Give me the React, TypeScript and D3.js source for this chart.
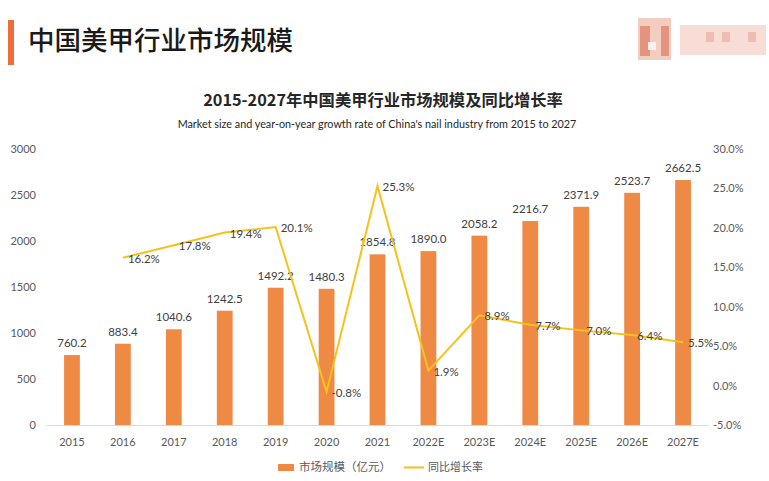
import React from "react";
import * as d3 from "d3";

const years = ["2015","2016","2017","2018","2019","2020","2021","2022E","2023E","2024E","2025E","2026E","2027E"];
const marketSize = [760.2,883.4,1040.6,1242.5,1492.2,1480.3,1854.8,1890.0,2058.2,2216.7,2371.9,2523.7,2662.5];
const growth: (number|null)[] = [null,16.2,17.8,19.4,20.1,-0.8,25.3,1.9,8.9,7.7,7.0,6.4,5.5];
const leftTicks = [0,500,1000,1500,2000,2500,3000];
const rightTicks = [-5,0,5,10,15,20,25,30];

const W = 769, H = 481;
const plotTop = 149, plotBottom = 425;
const CJK = "'Noto Sans CJK SC', 'Noto Sans', sans-serif";
const NUM = "Lato, 'Open Sans', sans-serif";

export default function App() {
  const x = d3.scaleBand<string>().domain(years).range([46.5, 708.5]).paddingInner(0.69).paddingOuter(0.345);
  const yL = d3.scaleLinear().domain([0, 3000]).range([plotBottom, plotTop]);
  const yR = d3.scaleLinear().domain([-5, 30]).range([plotBottom, plotTop]);
  const cx = (y: string) => (x(y) as number) + x.bandwidth() / 2;
  const pts = years.map((y, i) => ({ y, v: growth[i] })).filter(d => d.v !== null) as { y: string; v: number }[];
  const line = d3.line<{ y: string; v: number }>().x(d => cx(d.y)).y(d => yR(d.v));

  return (
    <svg width={W} height={H} style={{ position: "absolute", left: 0, top: 0, background: "#fff" }}>
      <rect x={0} y={0} width={W} height={H} fill="#fff" />
      {/* header */}
      <rect x={8} y={20} width={6} height={45} fill="#f26b3a" />
      <text x={28} y={50} fontFamily={CJK} fontSize={26.5} fontWeight={500} fill="#1a1a1a">中国美甲行业市场规模</text>
      {/* blurred logo */}
      <g opacity={0.7}>
        <rect x={638} y={18} width={33} height={42} fill="#f0b8a8" />
        <rect x={640} y={26} width={10} height={30} fill="#d9664a" />
        <rect x={661} y={26} width={8} height={30} fill="#d9664a" />
        <rect x={648} y={42} width={8} height={8} fill="#fbe9e4" />
        <rect x={680} y={25} width={86} height={30} fill="#f5d0c6" />
        <rect x={706} y={32} width={8} height={10} fill="#e8a090" />
        <rect x={722} y={32} width={8} height={10} fill="#e8a090" />
        <rect x={748} y={32} width={8} height={10} fill="#e8a090" />
      </g>
      {/* titles */}
      <text x={383} y={106} textAnchor="middle" fontFamily={CJK} fontSize={16.3} fontWeight={700} fill="#262626">2015-2027年中国美甲行业市场规模及同比增长率</text>
      <text x={377} y={128} textAnchor="middle" fontFamily={NUM} fontSize={10.8} fill="#262626">Market size and year-on-year growth rate of China's nail industry from 2015 to 2027</text>
      {/* left axis labels */}
      {leftTicks.map(t => (
        <text key={t} x={36} y={yL(t) + 4} textAnchor="end" fontFamily={NUM} fontSize={11} fill="#595959">{t}</text>
      ))}
      {/* right axis labels */}
      {rightTicks.map(t => (
        <text key={t} x={713} y={yR(t) + 4} textAnchor="start" fontFamily={NUM} fontSize={11} fill="#595959">{t.toFixed(1)}%</text>
      ))}
      {/* baseline */}
      <line x1={46.5} x2={708.5} y1={plotBottom + 0.5} y2={plotBottom + 0.5} stroke="#d9d9d9" />
      {/* bars */}
      {years.map((y, i) => (
        <rect key={y} x={x(y)} y={yL(marketSize[i])} width={x.bandwidth()} height={plotBottom - yL(marketSize[i])} fill="#ef8a45" />
      ))}
      {/* bar labels */}
      {years.map((y, i) => (
        <text key={y} x={cx(y)} y={yL(marketSize[i]) - 8} textAnchor="middle" fontFamily={NUM} fontSize={11.5} fill="#404040">{marketSize[i].toFixed(1)}</text>
      ))}
      {/* x labels */}
      {years.map(y => (
        <text key={y} x={cx(y)} y={446} textAnchor="middle" fontFamily={NUM} fontSize={11} fill="#595959">{y}</text>
      ))}
      {/* line */}
      <path d={line(pts) || ""} fill="none" stroke="#f5c21b" strokeWidth={2} strokeLinejoin="miter" />
      {pts.map(d => (
        <text key={d.y} x={cx(d.y) + 5} y={yR(d.v) + 5} fontFamily={NUM} fontSize={11.5} fill="#404040">{d.v.toFixed(1)}%</text>
      ))}
      {/* legend */}
      <rect x={278} y={464} width={16} height={7} fill="#ef8a45" />
      <text x={299} y={471} fontFamily={CJK} fontSize={11.5} fill="#595959">市场规模（亿元）</text>
      <line x1={404} x2={424} y1={467.5} y2={467.5} stroke="#f5c21b" strokeWidth={2} />
      <text x={428} y={471} fontFamily={CJK} fontSize={11} fill="#595959">同比增长率</text>
    </svg>
  );
}
